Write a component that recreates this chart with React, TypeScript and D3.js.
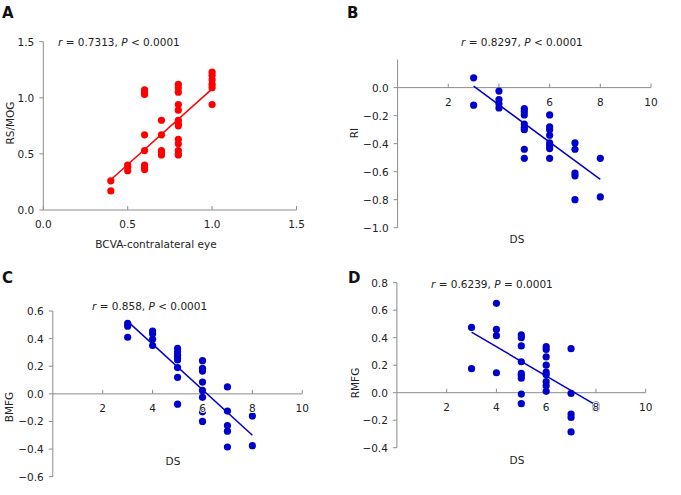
import React, { useEffect } from 'react';
import * as d3 from 'd3';

// ---------- data ----------
const aX = [0.4, 0.4, 0.5, 0.5, 0.5, 0.6, 0.6, 0.6, 0.6, 0.6, 0.6, 0.6, 0.6, 0.7, 0.7, 0.7, 0.7, 0.7,
  0.8, 0.8, 0.8, 0.8, 0.8, 0.8, 0.8, 0.8, 0.8, 0.8, 0.8, 0.8, 0.8, 1.0, 1.0, 1.0, 1.0, 1.0, 1.0];
const aY = [0.26, 0.17, 0.40, 0.38, 0.35, 1.07, 1.05, 1.03, 0.67, 0.53, 0.40, 0.38, 0.36, 0.80, 0.67, 0.53, 0.51, 0.49,
  1.12, 1.09, 1.05, 0.94, 0.89, 0.80, 0.77, 0.75, 0.63, 0.59, 0.53, 0.50, 0.49, 1.23, 1.20, 1.16, 1.12, 1.09, 0.94];
const aFitX = [0.4, 1.0];
const aFitY = [0.27, 1.08];

const bX = [3, 3, 4, 4, 4, 4, 5, 5, 5, 5, 5, 5, 5, 5, 6, 6, 6, 6, 6, 6, 6, 6, 7, 7, 7, 7, 7, 8, 8];
const bY = [0.07, -0.125, -0.025, -0.085, -0.115, -0.145, -0.15, -0.17, -0.195, -0.26, -0.285, -0.30, -0.44, -0.505,
  -0.195, -0.28, -0.30, -0.34, -0.395, -0.415, -0.435, -0.505, -0.395, -0.44, -0.61, -0.63, -0.80, -0.505, -0.78];
const bFitX = [3, 8];
const bFitY = [0.01, -0.655];

const cX = [3, 3, 3, 4, 4, 4, 4, 5, 5, 5, 5, 5, 5, 5, 5, 6, 6, 6, 6, 6, 6, 6, 6, 6, 7, 7, 7, 7, 7, 8, 8];
const cY = [0.51, 0.49, 0.41, 0.455, 0.435, 0.395, 0.35, 0.33, 0.305, 0.28, 0.26, 0.245, 0.19, 0.12, -0.075,
  0.24, 0.185, 0.165, 0.085, 0.025, -0.025, -0.115, -0.13, -0.2, 0.05, -0.125, -0.23, -0.27, -0.385, -0.16, -0.375];
const cFitX = [3, 8];
const cFitY = [0.525, -0.3];

const dX = [3, 3, 4, 4, 4, 4, 5, 5, 5, 5, 5, 5, 5, 5, 5, 6, 6, 6, 6, 6, 6, 6, 6, 6, 7, 7, 7, 7, 7, 8, 8];
const dY = [0.475, 0.175, 0.65, 0.46, 0.415, 0.145, 0.42, 0.40, 0.34, 0.225, 0.14, 0.125, 0.105, -0.01, -0.08,
  0.335, 0.315, 0.26, 0.20, 0.15, 0.13, 0.08, 0.05, 0.01, 0.32, -0.005, -0.155, -0.18, -0.285, -0.09, -0.115];
const dFitX = [3, 8];
const dFitY = [0.44, -0.09];

const aXTicks = [0, 0.5, 1.0, 1.5];
const aYTicks = [0, 0.5, 1.0, 1.5];
const bYTicks = [0, -0.2, -0.4, -0.6, -0.8, -1.0];
const cYTicks = [0.6, 0.4, 0.2, 0, -0.2, -0.4, -0.6];
const dYTicks = [0.8, 0.6, 0.4, 0.2, 0, -0.2, -0.4];
const dsXTicks = [2, 4, 6, 8, 10];

const FONT = 'DejaVu Sans';
const AXIS = '#8c8c8c';
const TXT = '#222';

type Panel = {
  letter: string; lx: number; ly: number;
  xs: number[]; ys: number[]; fx: number[]; fy: number[];
  xDom: [number, number]; xRng: [number, number];
  yDom: [number, number]; yRng: [number, number];
  xTicks: number[]; yTicks: number[]; xFmt: (v: number) => string;
  rVal: string; pOp: string; pVal: string; tx: number; ty: number;
  yLab: string; ylx: number; yly: number;
  xLab: string; xlx: number; xly: number;
  color: string; labelsOnTop: boolean;
};

const panels: Panel[] = [
  {
    letter: 'A', lx: 2, ly: 18, xs: aX, ys: aY, fx: aFitX, fy: aFitY,
    xDom: [0, 1.5], xRng: [43.3, 296.5], yDom: [0, 1.5], yRng: [210, 41.7],
    xTicks: aXTicks, yTicks: aYTicks, xFmt: d3.format('.1f'),
    rVal: '0.7313', pOp: '<', pVal: '0.0001', tx: 58, ty: 46,
    yLab: 'RS/MOG', ylx: 10, yly: 123, xLab: 'BCVA-contralateral eye', xlx: 156, xly: 248,
    color: '#ff0000', labelsOnTop: false,
  },
  {
    letter: 'B', lx: 347, ly: 18, xs: bX, ys: bY, fx: bFitX, fy: bFitY,
    xDom: [0, 10], xRng: [397.6, 651], yDom: [-1, 0.2], yRng: [227.7, 59.6],
    xTicks: dsXTicks, yTicks: bYTicks, xFmt: d3.format('d'),
    rVal: '0.8297', pOp: '<', pVal: '0.0001', tx: 461, ty: 46,
    yLab: 'RI', ylx: 353.5, yly: 133, xLab: 'DS', xlx: 517, xly: 243,
    color: '#0000cc', labelsOnTop: false,
  },
  {
    letter: 'C', lx: 2, ly: 283, xs: cX, ys: cY, fx: cFitX, fy: cFitY,
    xDom: [0, 10], xRng: [52.8, 302.3], yDom: [-0.6, 0.6], yRng: [476.7, 311],
    xTicks: dsXTicks, yTicks: cYTicks, xFmt: d3.format('d'),
    rVal: '0.858', pOp: '<', pVal: '0.0001', tx: 92, ty: 310,
    yLab: 'BMFG', ylx: 9, yly: 407, xLab: 'DS', xlx: 173, xly: 465,
    color: '#0000cc', labelsOnTop: true,
  },
  {
    letter: 'D', lx: 348, ly: 283, xs: dX, ys: dY, fx: dFitX, fy: dFitY,
    xDom: [0, 10], xRng: [396.9, 645.7], yDom: [-0.4, 0.8], yRng: [447.7, 282.7],
    xTicks: dsXTicks, yTicks: dYTicks, xFmt: d3.format('d'),
    rVal: '0.6239', pOp: '=', pVal: '0.0001', tx: 431, ty: 288,
    yLab: 'RMFG', ylx: 355, yly: 383, xLab: 'DS', xlx: 517, xly: 464,
    color: '#0000cc', labelsOnTop: true,
  },
];

function PanelView({ p }: { p: Panel }) {
  const x = d3.scaleLinear().domain(p.xDom).range(p.xRng);
  const y = d3.scaleLinear().domain(p.yDom).range(p.yRng);
  const y0 = y(0);
  const yFmt = d3.format('.1f');
  const line = d3.line<number>().x((_, i) => x(p.fx[i])).y((v) => y(v));
  const xLabels = (
    <g>
      {p.xTicks.map((t) => (
        <text key={'xl' + t} x={x(t)} y={y0 + 18} textAnchor="middle" fontSize={10.5}
          fill={TXT} stroke={p.labelsOnTop ? '#fff' : 'none'} strokeWidth={p.labelsOnTop ? 2 : 0}
          style={{ paintOrder: 'stroke' } as any}>{p.xFmt(t)}</text>
      ))}
    </g>
  );
  return (
    <g fontFamily={FONT}>
      <text x={p.lx} y={p.ly} fontSize={15} fontWeight="bold" fill="#111">{p.letter}</text>
      {/* y axis */}
      <line x1={x(p.xDom[0])} x2={x(p.xDom[0])} y1={y(p.yDom[0])} y2={y(p.yDom[1])} stroke={AXIS} strokeWidth={1} />
      {p.yTicks.map((t) => (
        <g key={'y' + t}>
          <line x1={x(p.xDom[0]) - 4} x2={x(p.xDom[0])} y1={y(t)} y2={y(t)} stroke={AXIS} />
          <text x={x(p.xDom[0]) - 9} y={y(t) + 4} textAnchor="end" fontSize={10.5} fill={TXT}>{yFmt(t)}</text>
        </g>
      ))}
      {/* x axis at zero */}
      <line x1={x(p.xDom[0])} x2={x(p.xDom[1])} y1={y0} y2={y0} stroke={AXIS} strokeWidth={1} />
      {p.xTicks.map((t) => (
        <line key={'xt' + t} x1={x(t)} x2={x(t)} y1={y0} y2={y0 - 4} stroke={AXIS} />
      ))}
      {!p.labelsOnTop && xLabels}
      {/* points */}
      {p.xs.map((xv, i) => (
        <circle key={'pt' + i} cx={x(xv)} cy={y(p.ys[i])} r={3.6} fill={p.color} />
      ))}
      {/* fit */}
      <path d={line(p.fy) || ''} fill="none" stroke={p.color} strokeWidth={1.5} />
      {p.labelsOnTop && xLabels}
      {/* title */}
      <text x={p.tx} y={p.ty} fontSize={10.5} fill={TXT}>
        <tspan fontStyle="italic">r</tspan>{' = ' + p.rVal + ', '}<tspan fontStyle="italic">P</tspan>{' ' + p.pOp + ' ' + p.pVal}
      </text>
      <text transform={`translate(${p.ylx + 4},${p.yly}) rotate(-90)`} textAnchor="middle" fontSize={10.5} fill={TXT}>{p.yLab}</text>
      <text x={p.xlx} y={p.xly} textAnchor="middle" fontSize={10.5} fill={TXT}>{p.xLab}</text>
    </g>
  );
}

export default function App() {
  useEffect(() => {
    document.body.style.margin = '0';
  }, []);
  return (
    <svg width={681} height={495} viewBox="0 0 681 495" style={{ display: 'block', background: '#fff' }}>
      <rect x={0} y={0} width={681} height={495} fill="#fff" />
      {panels.map((p) => <PanelView key={p.letter} p={p} />)}
    </svg>
  );
}
